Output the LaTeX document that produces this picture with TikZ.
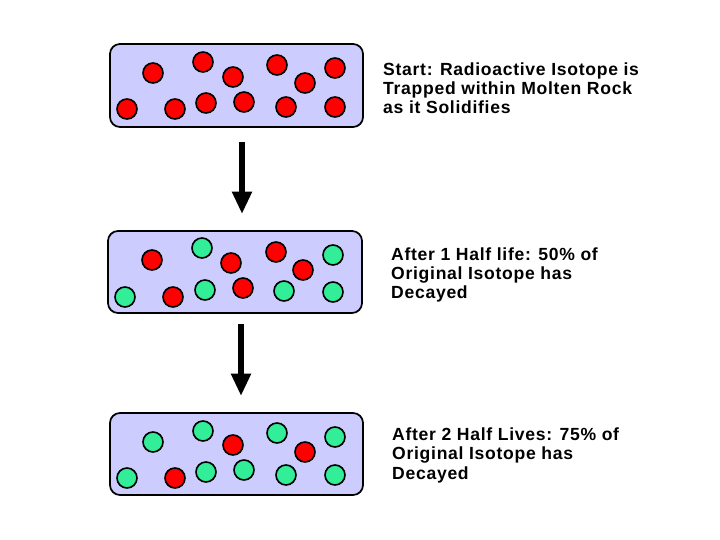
\documentclass[tikz,border=0pt]{standalone}
\usepackage{fontspec}
\setmainfont{Liberation Sans}[LetterSpace=4]
\usetikzlibrary{arrows.meta}

\definecolor{rockfill}{RGB}{204,204,255}
\definecolor{parentred}{RGB}{255,0,0}
\definecolor{daughtergreen}{RGB}{51,238,153}

\begin{document}
\begin{tikzpicture}[x=0.03cm,y=-0.03cm,
  slab/.style={draw=black,line width=1.5pt,fill=rockfill,rounded corners=0.3cm,inner sep=0pt},
  parent/.style={fill=parentred,draw=black,line width=1.4pt},
  daughter/.style={fill=daughtergreen,draw=black,line width=1.4pt},
  fall/.style={draw=black,line width=5.5pt,-{Triangle[length=19pt,width=16pt]}},
  caption/.style={anchor=base west,align=left,inner sep=0pt,
    font=\fontsize{15pt}{16.6pt}\selectfont\bfseries}]

\useasboundingbox (0,0) rectangle (720,540);

% The rock slabs
\node[slab,minimum width=7.59cm,minimum height=2.49cm] (rock1) at (236.5,85.5) {};
\node[slab,minimum width=7.62cm,minimum height=2.46cm] (rock2) at (235,272) {};
\node[slab,minimum width=7.59cm,minimum height=2.46cm] (rock3) at (236.5,454) {};

% The atoms at the start
\filldraw[parent] (153,73) circle (10);
\filldraw[parent] (203,62) circle (10);
\filldraw[parent] (233,77) circle (10);
\filldraw[parent] (277,65) circle (10);
\filldraw[parent] (305,83) circle (10);
\filldraw[parent] (335,68) circle (10);
\filldraw[parent] (127,109) circle (10);
\filldraw[parent] (175,109) circle (10);
\filldraw[parent] (206,103) circle (10);
\filldraw[parent] (244,102) circle (10);
\filldraw[parent] (286,107) circle (10);
\filldraw[parent] (335,107) circle (10);

% The atoms after one half life
\filldraw[parent] (152,260) circle (10);
\filldraw[daughter] (202,248) circle (10);
\filldraw[parent] (231,263) circle (10);
\filldraw[parent] (276,252) circle (10);
\filldraw[parent] (303,270) circle (10);
\filldraw[daughter] (333,255) circle (10);
\filldraw[daughter] (125,297) circle (10);
\filldraw[parent] (173,297) circle (10);
\filldraw[daughter] (205,290) circle (10);
\filldraw[parent] (243,288) circle (10);
\filldraw[daughter] (284,291) circle (10);
\filldraw[daughter] (333,292) circle (10);

% The atoms after two half lives
\filldraw[daughter] (153,442) circle (10);
\filldraw[daughter] (203,431) circle (10);
\filldraw[parent] (233,445) circle (10);
\filldraw[daughter] (277,433) circle (10);
\filldraw[parent] (305,452) circle (10);
\filldraw[daughter] (335,437) circle (10);
\filldraw[daughter] (127,478) circle (10);
\filldraw[parent] (175,478) circle (10);
\filldraw[daughter] (206,472) circle (10);
\filldraw[daughter] (244,470) circle (10);
\filldraw[daughter] (286,475) circle (10);
\filldraw[daughter] (335,475) circle (10);

% The arrows
\coordinate (drop1top) at (242,142);
\coordinate (drop1tip) at (242,214);
\coordinate (drop2top) at (241,324);
\coordinate (drop2tip) at (241,396);
\draw[fall] (drop1top) -- (drop1tip);
\draw[fall] (drop2top) -- (drop2tip);

% The captions (anchored at the last line)
\node[caption] (cap1) at (383,114) {Start: Radioactive Isotope is\\Trapped within Molten Rock\\as it Solidifies};
\node[caption] (cap2) at (391,299) {After 1 Half life: 50\% of\\Original Isotope has\\Decayed};
\node[caption] (cap3) at (392,479) {After 2 Half Lives: 75\% of\\Original Isotope has\\Decayed};

\end{tikzpicture}
\end{document}
